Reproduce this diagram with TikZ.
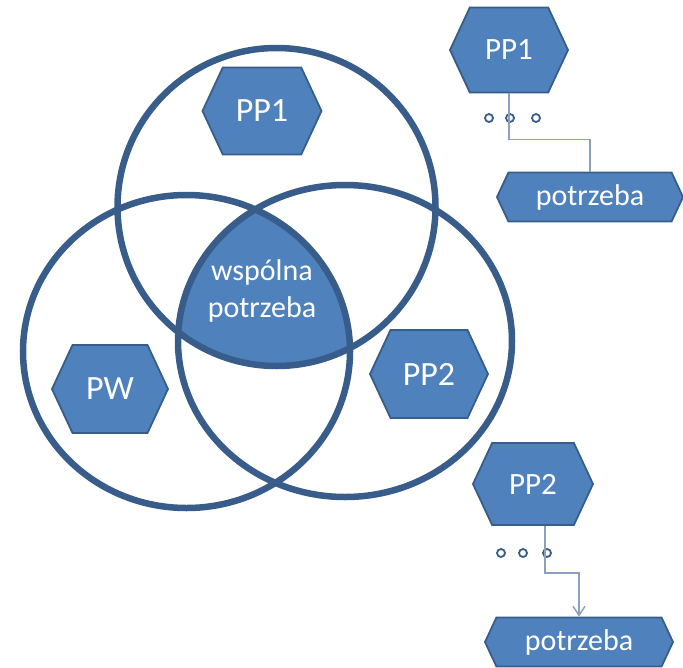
\documentclass[tikz,border=0pt]{standalone}
\usepackage{fontspec}
\setmainfont{Carlito}
\usetikzlibrary{shapes.symbols,arrows.meta}
\definecolor{venn}{RGB}{56,93,138}
\definecolor{hexfill}{RGB}{79,129,189}
\definecolor{linkgray}{RGB}{140,160,190}

\begin{document}
\begin{tikzpicture}[x=1pt,y=-1pt,
  hex/.style={signal, signal to=east and west, signal pointer angle=130, draw=venn, fill=hexfill, line width=1.8pt, text=white, inner sep=0pt},
  ring/.style={draw=venn, line width=6.5pt},
  link/.style={draw=linkgray, line width=1.5pt},
  dot/.style={circle, draw=venn, fill=white, line width=1.8pt, minimum size=8pt, inner sep=0pt}]
\useasboundingbox (0,0) rectangle (683,667);

\begin{scope}
\clip (276.5,207) circle[radius=159pt];
\clip (186.5,351.5) ellipse[x radius=163.5pt, y radius=156.5pt];
\fill[hexfill] (345,341) ellipse[x radius=167pt, y radius=156pt];
\end{scope}

\draw[ring] (276.5,207) circle[radius=159pt];
\draw[ring] (186.5,351.5) ellipse[x radius=163.5pt, y radius=156.5pt];
\draw[ring] (345,341) ellipse[x radius=167pt, y radius=156pt];

\node[text=white, align=center, font=\fontsize{30}{37}\selectfont] (common) at (262,291) {wspólna\\potrzeba};

\node[hex, minimum width=119pt, minimum height=87pt, font=\fontsize{34}{40}\selectfont] (hPPa) at (262,111) {PP1};
\node[hex, minimum width=116pt, minimum height=88pt, font=\fontsize{34}{40}\selectfont] (hPW) at (110,389) {PW};
\node[hex, minimum width=118pt, minimum height=88pt, font=\fontsize{34}{40}\selectfont] (hPPb) at (429,374) {PP2};

\node[hex, minimum width=118pt, minimum height=85pt, font=\fontsize{31}{38}\selectfont] (rPPa) at (509,50) {PP1};
\node[hex, minimum width=120pt, minimum height=82pt, font=\fontsize{31}{38}\selectfont] (rPPb) at (533,484) {PP2};
\node[hex, minimum width=186pt, minimum height=49pt, font=\fontsize{30}{36}\selectfont] (needA) at (590,197) {potrzeba};
\node[hex, minimum width=188pt, minimum height=49pt, font=\fontsize{30}{36}\selectfont] (needB) at (579,642) {potrzeba};

\node[dot] (dA1) at (489,118) {};
\node[dot] (dA2) at (510,118) {};
\node[dot] (dA3) at (536,118) {};
\node[dot] (dB1) at (501,553) {};
\node[dot] (dB2) at (523,553) {};
\node[dot] (dB3) at (547,553) {};

\draw[link] (rPPa.south) -- ++(0,46) -| (needA.north);
\draw[link, -{Straight Barb[length=9pt,width=12pt]}] ([xshift=12pt]rPPb.south) -- ++(0,47) -| (needB.north);

\end{tikzpicture}
\end{document}
